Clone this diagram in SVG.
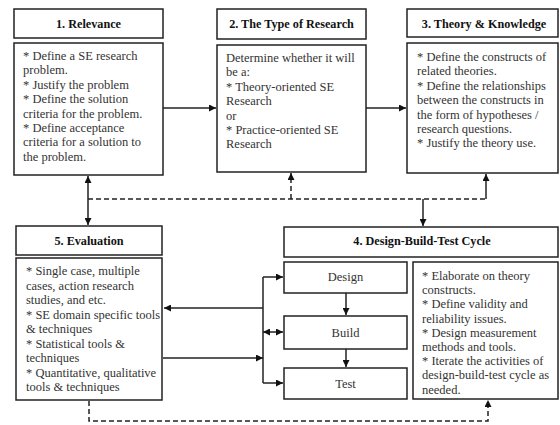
<svg xmlns="http://www.w3.org/2000/svg" width="560" height="425" viewBox="0 0 560 425">
<style>
.box{fill:#fff;stroke:#222;stroke-width:1.5}
.t{font-family:"Liberation Serif","Times New Roman",serif;font-size:12.5px;fill:#333}
.h{font-family:"Liberation Serif","Times New Roman",serif;font-size:12.2px;font-weight:bold;fill:#111;text-anchor:middle}
.c{text-anchor:middle}
.ln{fill:none;stroke:#222;stroke-width:1.5}
.ds{fill:none;stroke:#222;stroke-width:1.5;stroke-dasharray:5,3}
</style>
<defs>
<marker id="ah" viewBox="0 0 10 10" refX="10" refY="5" markerWidth="7" markerHeight="7" markerUnits="userSpaceOnUse" orient="auto-start-reverse">
<path d="M0,0 L10,5 L0,10 z" fill="#111"/>
</marker>
</defs>
<rect width="560" height="425" fill="#fff"/>
<g id="connectors">
<line class="ln" x1="163" y1="108" x2="216" y2="108" marker-end="url(#ah)"/>
<line class="ln" x1="366" y1="108" x2="406" y2="108" marker-end="url(#ah)"/>
<line class="ln" x1="88" y1="176" x2="88" y2="225" marker-start="url(#ah)" marker-end="url(#ah)"/>
<line class="ds" x1="88" y1="199" x2="486" y2="199"/>
<line class="ds" x1="291" y1="199" x2="291" y2="173" marker-end="url(#ah)"/>
<line class="ln" x1="486" y1="199" x2="486" y2="174" marker-end="url(#ah)"/>
<line class="ln" x1="423" y1="199" x2="423" y2="226" marker-end="url(#ah)"/>
<line class="ln" x1="263" y1="277" x2="263" y2="383"/>
<line class="ln" x1="263" y1="277" x2="283" y2="277" marker-end="url(#ah)"/>
<line class="ln" x1="263" y1="383" x2="283" y2="383" marker-end="url(#ah)"/>
<line class="ln" x1="263" y1="332" x2="283" y2="332" marker-start="url(#ah)" marker-end="url(#ah)"/>
<line class="ln" x1="263" y1="308" x2="164" y2="308" marker-end="url(#ah)"/>
<line class="ln" x1="163" y1="358" x2="263" y2="358" marker-end="url(#ah)"/>
<line class="ln" x1="346" y1="293" x2="346" y2="315" marker-end="url(#ah)"/>
<line class="ln" x1="346" y1="349" x2="346" y2="367" marker-end="url(#ah)"/>
<path class="ds" d="M89,401 V421 H488 V400" marker-end="url(#ah)"/>
</g>
<g id="n1">
<rect class="box" x="14" y="9" width="149" height="29"/>
<text class="h" x="88.5" y="28">1. Relevance</text>
<rect class="box" x="14" y="43" width="149" height="132"/>
<text class="t"><tspan x="23" y="60">* Define a SE research</tspan><tspan x="23" y="74.4">problem.</tspan><tspan x="23" y="88.8">* Justify the problem</tspan><tspan x="23" y="103.2">* Define the solution</tspan><tspan x="23" y="117.6">criteria for the problem.</tspan><tspan x="23" y="132">* Define acceptance</tspan><tspan x="23" y="146.4">criteria for a solution to</tspan><tspan x="23" y="160.8">the problem.</tspan></text>
</g>
<g id="n2">
<rect class="box" x="217" y="9" width="149" height="30"/>
<text class="h" x="291.5" y="28">2. The Type of Research</text>
<rect class="box" x="217" y="45" width="149" height="127"/>
<text class="t"><tspan x="226" y="62">Determine whether it will</tspan><tspan x="226" y="76.4">be a:</tspan><tspan x="226" y="90.8">* Theory-oriented SE</tspan><tspan x="226" y="105.2">Research</tspan><tspan x="226" y="119.6">or</tspan><tspan x="226" y="134">* Practice-oriented SE</tspan><tspan x="226" y="148.4">Research</tspan></text>
</g>
<g id="n3">
<rect class="box" x="407" y="9" width="151" height="28"/>
<text class="h" x="484" y="28">3. Theory &amp; Knowledge</text>
<rect class="box" x="407" y="43" width="151" height="130"/>
<text class="t"><tspan x="417" y="61">* Define the constructs of</tspan><tspan x="417" y="75.4">related theories.</tspan><tspan x="417" y="89.8">* Define the relationships</tspan><tspan x="417" y="104.2">between the constructs in</tspan><tspan x="417" y="118.6">the form of hypotheses /</tspan><tspan x="417" y="133">research questions.</tspan><tspan x="417" y="147.4">* Justify the theory use.</tspan></text>
</g>
<g id="n5">
<rect class="box" x="16" y="226" width="146" height="29"/>
<text class="h" x="89" y="245">5. Evaluation</text>
<rect class="box" x="16" y="258" width="146" height="142"/>
<text class="t"><tspan x="26" y="275">* Single case, multiple</tspan><tspan x="26" y="289.5">cases, action research</tspan><tspan x="26" y="304">studies, and etc.</tspan><tspan x="26" y="318.5">* SE domain specific tools</tspan><tspan x="26" y="333">&amp; techniques</tspan><tspan x="26" y="347.5">* Statistical tools &amp;</tspan><tspan x="26" y="362">techniques</tspan><tspan x="26" y="376.5">* Quantitative, qualitative</tspan><tspan x="26" y="391">tools &amp; techniques</tspan></text>
</g>
<g id="n4">
<rect class="box" x="284" y="227" width="274" height="30"/>
<text class="h" x="422" y="245">4. Design-Build-Test Cycle</text>
<rect class="box" x="413" y="262" width="145" height="137"/>
<text class="t"><tspan x="422" y="280">* Elaborate on theory</tspan><tspan x="422" y="294.2">constructs.</tspan><tspan x="422" y="308.4">* Define validity and</tspan><tspan x="422" y="322.6">reliability issues.</tspan><tspan x="422" y="336.8">* Design measurement</tspan><tspan x="422" y="351">methods and tools.</tspan><tspan x="422" y="365.2">* Iterate the activities of</tspan><tspan x="422" y="379.4">design-build-test cycle as</tspan><tspan x="422" y="393.6">needed.</tspan></text>
</g>
<g id="design">
<rect class="box" x="284" y="262" width="123" height="31"/>
<text class="t c" x="345.5" y="281">Design</text>
</g>
<g id="build">
<rect class="box" x="284" y="316" width="123" height="33"/>
<text class="t c" x="345.5" y="337">Build</text>
</g>
<g id="test">
<rect class="box" x="284" y="368" width="123" height="31"/>
<text class="t c" x="345.5" y="388">Test</text>
</g>
</svg>
